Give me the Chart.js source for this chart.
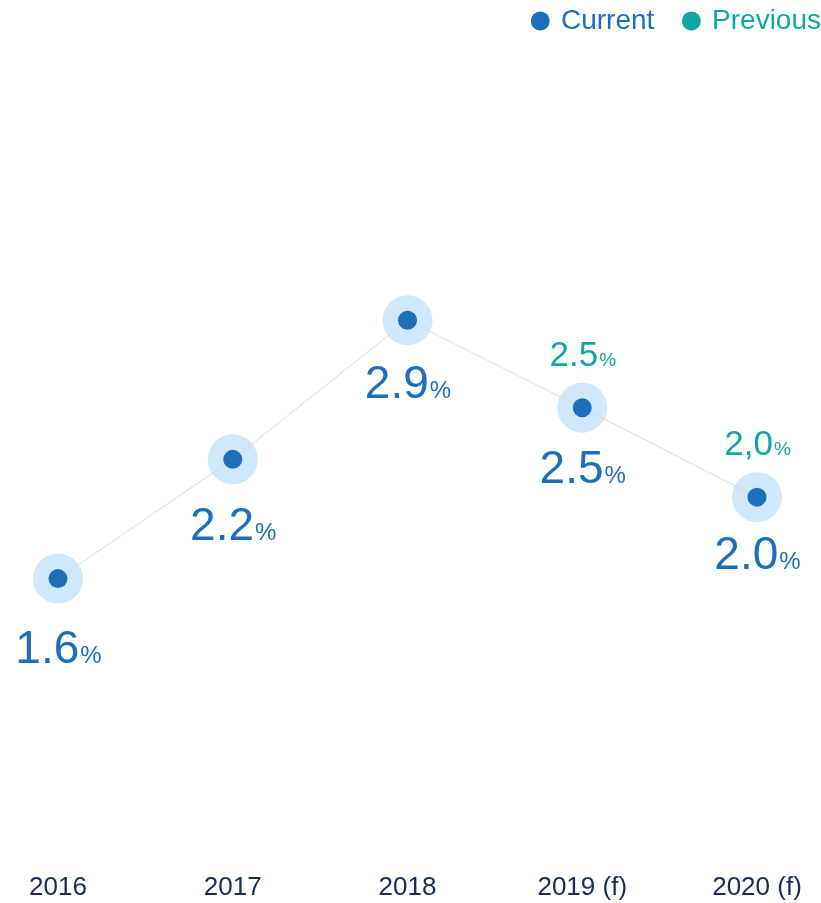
<!DOCTYPE html>
<html lang="en">
<head>
    <meta charset="UTF-8">
    <title>Current vs Previous</title>
    <script src="https://cdn.jsdelivr.net/npm/chart.js"></script>
    <style>
        body {
            margin: 0;
            background: #fff;
        }

        #wrap {
            width: 821px;
            height: 903px;
            position: relative;
        }
    </style>
</head>
<body>
    <div id="wrap"><canvas id="lineChart"></canvas></div>
    <script>
        var years = ['2016', '2017', '2018', '2019 (f)', '2020 (f)'];
        var currentValues = [1.6, 2.2, 2.9, 2.46, 2.01];
        var currentLabels = ['1.6', '2.2', '2.9', '2.5', '2.0'];
        var previousValues = [null, null, null, 2.5, 2.0];
        var previousLabels = ['', '', '', '2.5', '2,0'];

        var blue = '#1c6fb8';
        var halo = '#cfe8fc';
        var teal = '#10a7a2';
        var fontFamily = '"Liberation Sans", Arial, sans-serif';

        // number + small percent sign, centred on x
        function drawPct(ctx, text, x, y, big, small, color) {
            ctx.fillStyle = color;
            ctx.font = big + 'px ' + fontFamily;
            var w1 = ctx.measureText(text).width;
            ctx.font = small + 'px ' + fontFamily;
            var w2 = ctx.measureText('%').width;
            var left = x - (w1 + w2) / 2;
            ctx.font = big + 'px ' + fontFamily;
            ctx.fillText(text, left, y);
            ctx.font = small + 'px ' + fontFamily;
            ctx.fillText('%', left + w1 + 1, y);
        }

        var valueLabels = {
            id: 'valueLabels',
            afterDatasetsDraw: function (chart) {
                var ctx = chart.ctx;
                var pts = chart.getDatasetMeta(1).data;
                ctx.save();
                ctx.textAlign = 'left';
                ctx.textBaseline = 'alphabetic';
                pts.forEach(function (pt, i) {
                    drawPct(ctx, currentLabels[i], pt.x, pt.y + 84 - 3 * i, 46, 24, blue);
                    if (previousValues[i] !== null) {
                        drawPct(ctx, previousLabels[i], pt.x, pt.y - 42, 35, 19, teal);
                    }
                });
                ctx.restore();
            }
        };

        new Chart(document.getElementById('lineChart'), {
            type: 'line',
            data: {
                labels: years,
                datasets: [
                    {
                        label: 'halo',
                        data: currentValues,
                        showLine: false,
                        pointRadius: 25,
                        pointHoverRadius: 25,
                        pointBackgroundColor: halo,
                        pointBorderWidth: 0,
                        clip: false,
                        order: 2
                    },
                    {
                        label: 'Current',
                        data: currentValues,
                        borderColor: '#d9d9d9',
                        borderWidth: 1,
                        pointRadius: 9.5,
                        pointHoverRadius: 9.5,
                        pointBackgroundColor: blue,
                        pointBorderWidth: 0,
                        tension: 0,
                        clip: false,
                        order: 1
                    },
                    {
                        label: 'Previous',
                        data: previousValues,
                        showLine: false,
                        pointRadius: 0,
                        borderColor: teal,
                        backgroundColor: teal,
                        clip: false,
                        order: 0
                    }
                ]
            },
            options: {
                responsive: true,
                maintainAspectRatio: false,
                animation: false,
                layout: {
                    padding: { left: 58, right: -7, top: 0, bottom: 0 }
                },
                plugins: {
                    tooltip: { enabled: false },
                    legend: {
                        position: 'top',
                        align: 'end',
                        labels: {
                            usePointStyle: true,
                            boxWidth: 13.4,
                            boxHeight: 13.4,
                            padding: 7,
                            font: { size: 28, family: fontFamily },
                            generateLabels: function () {
                                return [
                                    { text: 'Current   ', fillStyle: blue, strokeStyle: blue, lineWidth: 0, pointStyle: 'circle', fontColor: blue, datasetIndex: 1 },
                                    { text: 'Previous', fillStyle: teal, strokeStyle: teal, lineWidth: 0, pointStyle: 'circle', fontColor: teal, datasetIndex: 2 }
                                ];
                            }
                        }
                    }
                },
                scales: {
                    x: {
                        offset: false,
                        grid: { display: false },
                        border: { display: false },
                        ticks: {
                            color: '#1b2a4e',
                            padding: 0,
                            maxRotation: 0,
                            autoSkip: false,
                            font: { size: 26, family: fontFamily }
                        }
                    },
                    y: {
                        position: 'right',
                        min: 0.165,
                        max: 4.285,
                        grid: { display: false },
                        border: { display: false },
                        ticks: { display: false },
                        afterFit: function (scale) {
                            scale.width = 71;
                        }
                    }
                }
            },
            plugins: [valueLabels]
        });
    </script>
</body>
</html>
